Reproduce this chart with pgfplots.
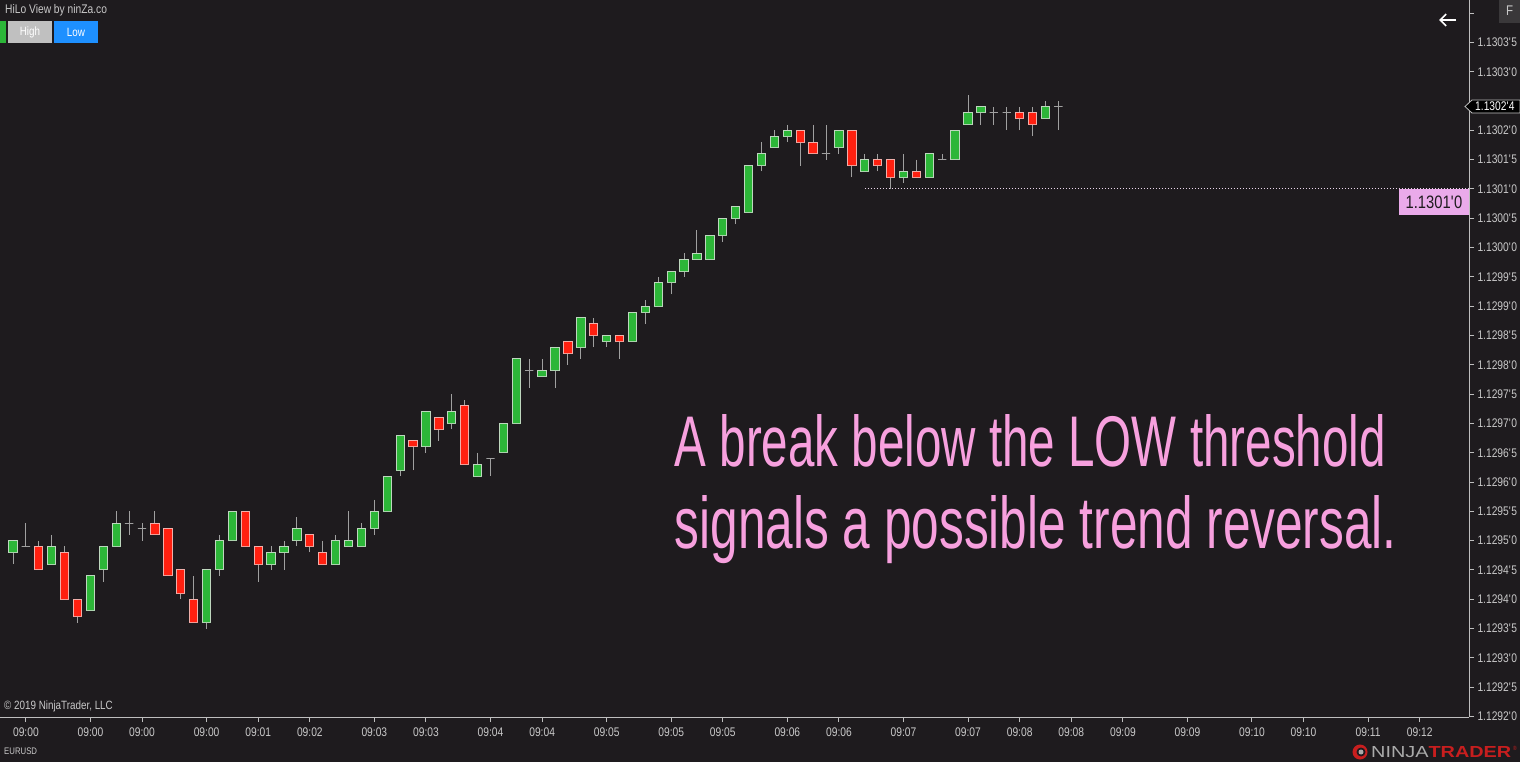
\documentclass[border=0pt]{standalone}
\usepackage{pgfplots}
\pgfplotsset{compat=1.18}
\usepgfplotslibrary{statistics}
\usetikzlibrary{arrows.meta}
\usepackage{graphicx}
\usepackage{fontspec}
\setmainfont{Liberation Sans}
\newfontfamily\tf{Liberation Sans}[FakeStretch=0.82]
\newfontfamily\bigf{Liberation Sans}
\definecolor{bg}{RGB}{30,27,30}
\definecolor{cgreen}{RGB}{44,182,56}
\definecolor{cred}{RGB}{255,32,16}
\definecolor{cgedge}{RGB}{190,215,190}
\definecolor{credge}{RGB}{240,175,170}
\definecolor{wick}{RGB}{160,160,160}
\definecolor{axgray}{RGB}{190,190,190}
\definecolor{lblgray}{RGB}{200,200,200}
\definecolor{pinktxt}{RGB}{247,160,222}
\definecolor{pinkbox}{RGB}{234,170,234}
\definecolor{dotline}{RGB}{235,215,235}
\definecolor{fbtn}{RGB}{58,56,58}
\definecolor{highbtn}{RGB}{192,192,192}
\definecolor{lowbtn}{RGB}{30,144,255}
\definecolor{logored}{RGB}{200,30,30}
\definecolor{logogray}{RGB}{170,170,170}
\newcommand\q{\textquotesingle}
\pgfplotsset{
  up/.style={fill=cgreen, draw=cgedge, line width=1pt},
  dn/.style={fill=cred, draw=credge, line width=1pt},
  dj/.style={draw=wick, line width=1pt},
}
% style, position, low, lower body edge, upper body edge, high
\newcommand\cdl[6]{\addplot[#1, boxplot prepared={draw direction=y, draw position=#2, lower whisker=#3, lower quartile=#4, upper quartile=#5, upper whisker=#6, median=#4}] coordinates {};}
\begin{document}
\begin{tikzpicture}
\fill[bg] (0pt,0pt) rectangle (1520pt,-762pt);
\useasboundingbox (0pt,0pt) rectangle (1520pt,-762pt);
\begin{axis}[
  at={(0pt,-717pt)}, anchor=south west,
  width=1469pt, height=717pt, scale only axis,
  xmin=-0.0074, xmax=113.82, ymin=-0.1, ymax=122.25,
  axis x line*=bottom, axis y line*=right,
  axis line style={draw=axgray, line width=1pt},
  tick align=outside, major tick length=5pt,
  every tick/.style={draw=axgray, line width=1pt},
  xtick={2,7,11,16,20,24,29,33,38,42,47,52,56,61,65,70,75,79,83,87,92,97,101,106,110},
  xticklabels={09:00,09:00,09:00,09:00,09:01,09:02,09:03,09:03,09:04,09:04,09:05,09:05,09:05,09:06,09:06,09:07,09:07,09:08,09:08,09:09,09:09,09:10,09:10,09:11,09:12},
  ytick={0,5,...,120},
  yticklabels={1.1292\q0,1.1292\q5,1.1293\q0,1.1293\q5,1.1294\q0,1.1294\q5,1.1295\q0,1.1295\q5,1.1296\q0,1.1296\q5,1.1297\q0,1.1297\q5,1.1298\q0,1.1298\q5,1.1299\q0,1.1299\q5,1.1300\q0,1.1300\q5,1.1301\q0,1.1301\q5,1.1302\q0,{},1.1303\q0,1.1303\q5,{}},
  ticklabel style={font=\tf\fontsize{12.5}{14}\selectfont, text=lblgray},
  xticklabel style={yshift=-2pt},
  boxplot/draw direction=y,
  boxplot/box extend=0.645,
  boxplot/whisker extend=0,
  boxplot/every whisker/.style={draw=wick, line width=1pt},
  boxplot/every median/.style={draw=none},
]
\addplot[draw=dotline, line width=1pt, dash pattern=on 1pt off 2pt] coordinates {(67,90) (113.82,90)};
\cdl{up}{1}{26}{28}{30}{30}
\cdl{dj}{2}{29}{29}{29}{33}
\cdl{dn}{3}{25}{25}{29}{30}
\cdl{up}{4}{26}{26}{29}{31}
\cdl{dn}{5}{20}{20}{28}{29}
\cdl{dn}{6}{16}{17}{20}{20}
\cdl{up}{7}{18}{18}{24}{24}
\cdl{up}{8}{23}{25}{29}{29}
\cdl{up}{9}{29}{29}{33}{35}
\cdl{dj}{10}{31}{33}{33}{35}
\cdl{dj}{11}{30}{32}{32}{33}
\cdl{dn}{12}{31}{31}{33}{35}
\cdl{dn}{13}{24}{24}{32}{32}
\cdl{dn}{14}{20}{21}{25}{25}
\cdl{dn}{15}{16}{16}{20}{24}
\cdl{up}{16}{15}{16}{25}{25}
\cdl{up}{17}{24}{25}{30}{31}
\cdl{up}{18}{30}{30}{35}{35}
\cdl{dn}{19}{29}{29}{35}{35}
\cdl{dn}{20}{23}{26}{29}{29}
\cdl{up}{21}{25}{26}{28}{29}
\cdl{up}{22}{25}{28}{29}{30}
\cdl{up}{23}{29}{30}{32}{34}
\cdl{dn}{24}{28}{29}{31}{31}
\cdl{dn}{25}{26}{26}{28}{30}
\cdl{up}{26}{26}{26}{30}{31}
\cdl{up}{27}{29}{29}{30}{35}
\cdl{up}{28}{29}{29}{32}{33}
\cdl{up}{29}{31}{32}{35}{37}
\cdl{up}{30}{35}{35}{41}{41}
\cdl{up}{31}{41}{42}{48}{48}
\cdl{dn}{32}{42}{46}{47}{47}
\cdl{up}{33}{45}{46}{52}{52}
\cdl{dn}{34}{47}{49}{51}{51}
\cdl{up}{35}{49}{50}{52}{55}
\cdl{dn}{36}{43}{43}{53}{54}
\cdl{up}{37}{41}{41}{43}{45}
\cdl{dj}{38}{41}{44}{44}{44}
\cdl{up}{39}{45}{45}{50}{50}
\cdl{up}{40}{50}{50}{61}{61}
\cdl{dj}{41}{56}{59}{59}{61}
\cdl{up}{42}{58}{58}{59}{61}
\cdl{up}{43}{56}{59}{63}{63}
\cdl{dn}{44}{60}{62}{64}{64}
\cdl{up}{45}{61}{63}{68}{68}
\cdl{dn}{46}{63}{65}{67}{68}
\cdl{up}{47}{63}{64}{65}{65}
\cdl{dn}{48}{61}{64}{65}{65}
\cdl{up}{49}{64}{64}{69}{69}
\cdl{up}{50}{67}{69}{70}{71}
\cdl{up}{51}{70}{70}{74}{75}
\cdl{up}{52}{72}{74}{76}{76}
\cdl{up}{53}{75}{76}{78}{79}
\cdl{up}{54}{78}{78}{79}{83}
\cdl{up}{55}{78}{78}{82}{82}
\cdl{up}{56}{81}{82}{85}{85}
\cdl{up}{57}{84}{85}{87}{87}
\cdl{up}{58}{86}{86}{94}{94}
\cdl{up}{59}{93}{94}{96}{98}
\cdl{up}{60}{97}{97}{99}{100}
\cdl{up}{61}{98}{99}{100}{101}
\cdl{dn}{62}{94}{98}{100}{100}
\cdl{dn}{63}{96}{96}{98}{101}
\cdl{dj}{64}{95}{96}{96}{101}
\cdl{up}{65}{96}{97}{100}{100}
\cdl{dn}{66}{92}{94}{100}{100}
\cdl{up}{67}{93}{93}{95}{96}
\cdl{dn}{68}{93}{94}{95}{96}
\cdl{dn}{69}{90}{92}{95}{95}
\cdl{up}{70}{91}{92}{93}{96}
\cdl{dn}{71}{92}{92}{93}{95}
\cdl{up}{72}{92}{92}{96}{96}
\cdl{dj}{73}{95}{95}{95}{96}
\cdl{up}{74}{95}{95}{100}{100}
\cdl{up}{75}{101}{101}{103}{106}
\cdl{up}{76}{101}{103}{104}{104}
\cdl{dj}{77}{101}{103}{103}{104}
\cdl{dj}{78}{100}{103}{103}{104}
\cdl{dn}{79}{100}{102}{103}{104}
\cdl{dn}{80}{99}{101}{103}{104}
\cdl{up}{81}{102}{102}{104}{105}
\cdl{dj}{82}{100}{104}{104}{105}
\end{axis}
\begin{scope}[x=1pt, y=-1pt]
% top-left indicator
\node[anchor=west, inner sep=0, font=\tf\fontsize{12.5}{14}\selectfont, text=lblgray] at (5,10) {HiLo View by ninZa.co};
\fill[cgreen] (0,21) rectangle (6,43);
\fill[highbtn] (8,21) rectangle (52,43);
\node[font=\tf\fontsize{12}{14}\selectfont, text=white] at (30,32) {High};
\fill[lowbtn] (54,21) rectangle (98,43);
\node[font=\tf\fontsize{12}{14}\selectfont, text=white] at (76,32) {Low};
% top-right
\draw[-{Straight Barb[length=6pt,width=12pt]}, white, line width=1.6pt] (1456,20) -- (1439,20);
\fill[fbtn] (1499,0) rectangle (1520,23);
\node[font=\tf\fontsize{14}{16}\selectfont, text=lblgray] at (1509.5,11) {F};
% current price marker
\filldraw[fill=black, draw=axgray, line width=0.8pt] (1465,106.5) -- (1472,100) -- (1520,100) -- (1520,113) -- (1472,113) -- cycle;
\node[anchor=west, inner sep=0, font=\tf\fontsize{12.5}{14}\selectfont, text=white] at (1475,106.5) {1.1302\q4};
% threshold label
\fill[pinkbox] (1399,189) rectangle (1469,215);
\node[font=\tf\fontsize{18}{20}\selectfont, text=bg] at (1434,202.5) {1.1301\q0};
% big annotation
\node[anchor=base west, inner sep=0, text=pinktxt] at (674.5,466) {\resizebox{711pt}{52pt}{\bigf A break below the LOW threshold}};
\node[anchor=base west, inner sep=0, text=pinktxt] at (674.5,548) {\resizebox{722pt}{53pt}{\bigf signals a possible trend reversal.}};
% bottom texts
\node[anchor=west, inner sep=0, font=\tf\fontsize{12}{14}\selectfont, text=lblgray] at (4,706) {\textcopyright{} 2019 NinjaTrader, LLC};
\node[anchor=west, inner sep=0, font=\tf\fontsize{9.5}{11}\selectfont, text=lblgray] at (4,751) {EURUSD};
% logo
\fill[logored] (1360,752) circle (7.5);
\fill[bg] (1361,752) circle (4.5);
\fill[logogray] (1361,752) circle (2.5);
\node[anchor=west, inner sep=0] at (1371,752) {\resizebox{140pt}{11pt}{\color{logogray}NINJA\color{logored}\bfseries TRADER}};
\node[anchor=west, inner sep=0, font=\tf\fontsize{6}{7}\selectfont, text=logored] at (1513,748) {\textregistered};
\end{scope}
\end{tikzpicture}
\end{document}
